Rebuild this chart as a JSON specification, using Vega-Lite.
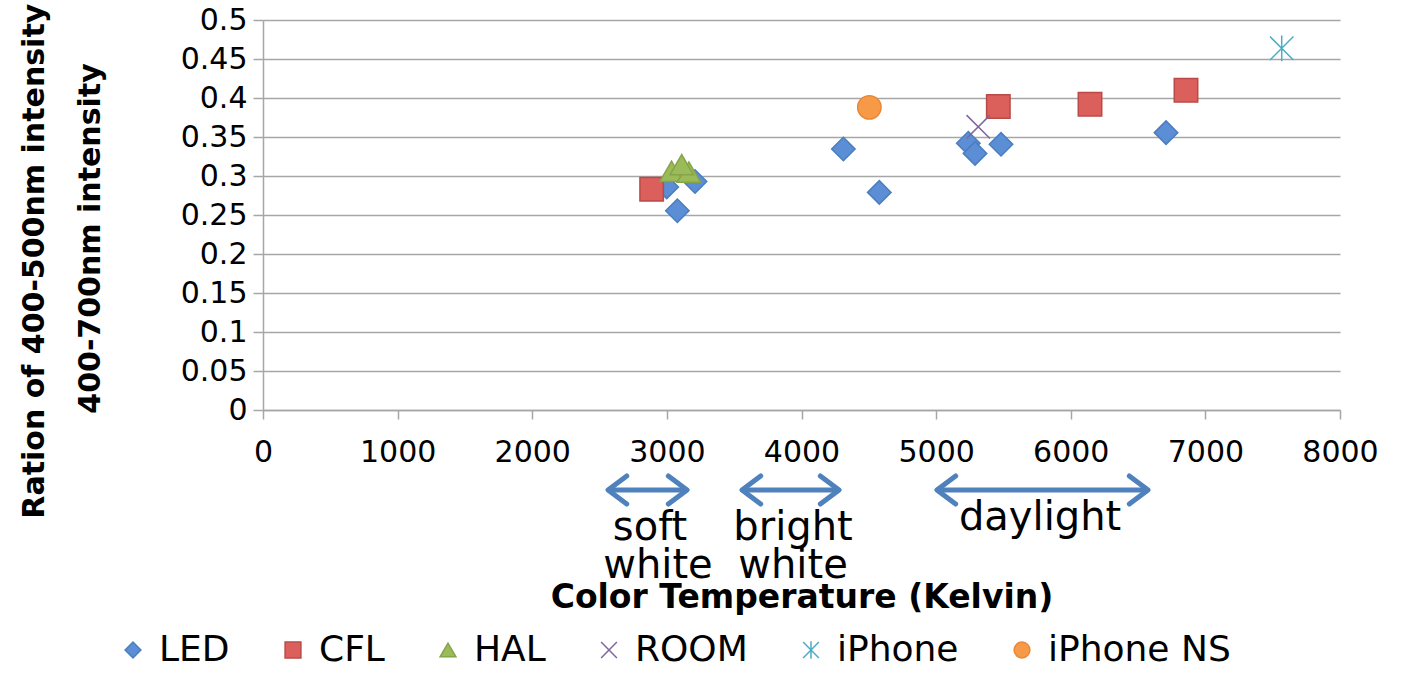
{
  "$schema": "https://vega.github.io/schema/vega-lite/v6.json",
  "width": 1077,
  "height": 390,
  "autosize": "none",
  "padding": {"left": 263, "top": 20, "right": 62, "bottom": 263},
  "background": "white",
  "config": {
    "view": {"stroke": null},
    "font": "DejaVu Sans",
    "axis": {"labelFont": "DejaVu Sans", "titleFont": "DejaVu Sans", "labelColor": "#000000", "titleColor": "#000000"}
  },
  "encoding": {
    "x": {
      "field": "temp", "type": "quantitative",
      "scale": {"domain": [0, 8000], "nice": false, "zero": true},
      "axis": {
        "title": "Color Temperature (Kelvin)",
        "titleFontSize": 33, "titleFontWeight": "bold",
        "titleBaseline": "alphabetic", "titleY": 197,
        "values": [0, 1000, 2000, 3000, 4000, 5000, 6000, 7000, 8000],
        "tickCount": 20,
        "format": "d",
        "labelFontSize": 30, "labelPadding": 18, "labelFlush": false, "labelOverlap": false,
        "grid": false,
        "domainColor": "#A6A6A6", "domainWidth": 1.5,
        "tickColor": "#A6A6A6", "tickWidth": 1.5, "tickSize": 9
      }
    },
    "y": {
      "field": "ratio", "type": "quantitative",
      "scale": {"domain": [0, 0.5], "nice": false},
      "axis": {
        "title": ["Ration of 400-500nm intensity to", "400-700nm intensity"],
        "titleFontSize": 30, "titleFontWeight": "bold",
        "titleAngle": -90, "titleAlign": "center", "titleBaseline": "alphabetic",
        "titleX": -220, "titleY": 218, "titleLineHeight": 56,
        "values": [0, 0.05, 0.1, 0.15, 0.2, 0.25, 0.3, 0.35, 0.4, 0.45, 0.5],
        "tickCount": 20,
        "labelExpr": "datum.value == 0 ? '0' : format(datum.value, '.2~f')",
        "labelFontSize": 30, "labelPadding": 6, "labelFlush": false, "labelOverlap": false,
        "grid": true, "gridColor": "#A6A6A6", "gridWidth": 1.5,
        "domainColor": "#A6A6A6", "domainWidth": 1.5,
        "tickColor": "#A6A6A6", "tickWidth": 1.5, "tickSize": 10
      }
    }
  },
  "layer": [
    {
      "data": {"values": [
        {"type": "LED", "temp": 2999, "ratio": 0.286},
        {"type": "LED", "temp": 3209, "ratio": 0.293},
        {"type": "LED", "temp": 3078, "ratio": 0.2555},
        {"type": "LED", "temp": 4311, "ratio": 0.3346},
        {"type": "LED", "temp": 4578, "ratio": 0.279},
        {"type": "LED", "temp": 5239, "ratio": 0.342},
        {"type": "LED", "temp": 5289, "ratio": 0.329},
        {"type": "LED", "temp": 5482, "ratio": 0.3406},
        {"type": "LED", "temp": 6708, "ratio": 0.3556},
        {"type": "CFL", "temp": 2887, "ratio": 0.283},
        {"type": "CFL", "temp": 5462, "ratio": 0.389},
        {"type": "CFL", "temp": 6143, "ratio": 0.392},
        {"type": "CFL", "temp": 6856, "ratio": 0.41},
        {"type": "HAL", "temp": 3035, "ratio": 0.306},
        {"type": "HAL", "temp": 3164, "ratio": 0.305},
        {"type": "HAL", "temp": 3110, "ratio": 0.3145},
        {"type": "ROOM", "temp": 5313, "ratio": 0.363},
        {"type": "iPhone", "temp": 7567, "ratio": 0.4637},
        {"type": "iPhone NS", "temp": 4504, "ratio": 0.388}
      ]},
      "mark": {"type": "point", "filled": true, "opacity": 1, "strokeWidth": 1.5, "size": 550},
      "encoding": {
        "fill": {
          "field": "type", "type": "nominal",
          "scale": {
            "domain": ["LED", "CFL", "HAL", "ROOM", "iPhone", "iPhone NS"],
            "range": ["#5B8ED4", "#DB5F5B", "#9BBB59", "transparent", "transparent", "#F79A48"]
          },
          "legend": {
            "orient": "none", "legendX": -148, "legendY": 612,
            "direction": "horizontal", "title": null,
            "labelFont": "DejaVu Sans", "labelFontSize": 36, "labelColor": "#000000", "labelLimit": 0,
            "symbolSize": 250, "symbolStrokeWidth": 1.5,
            "labelOffset": 8, "columnPadding": 45
          }
        },
        "stroke": {
          "field": "type", "type": "nominal",
          "scale": {
            "domain": ["LED", "CFL", "HAL", "ROOM", "iPhone", "iPhone NS"],
            "range": ["#4A7EC0", "#B94A47", "#86A44A", "#8064A2", "#4BACC6", "#E9883A"]
          }
        },
        "shape": {
          "field": "type", "type": "nominal",
          "scale": {
            "domain": ["LED", "CFL", "HAL", "ROOM", "iPhone", "iPhone NS"],
            "range": ["diamond", "square", "triangle-up", "M-1,-1L1,1M-1,1L1,-1", "M-1,-1L1,1M-1,1L1,-1M0,-1.1L0,1.1", "circle"]
          }
        }
      }
    },
    {
      "data": {"values": [
        {"temp": 2563, "temp2": 3150, "ratio": -0.1026},
        {"temp": 3558, "temp2": 4279, "ratio": -0.1026},
        {"temp": 5006, "temp2": 6574, "ratio": -0.1026}
      ]},
      "mark": {"type": "rule", "color": "#4F81BD", "strokeWidth": 5},
      "encoding": {
        "x2": {"field": "temp2"}
      }
    },
    {
      "data": {"values": [
        {"temp": 2563, "ratio": -0.1026},
        {"temp": 3558, "ratio": -0.1026},
        {"temp": 5006, "ratio": -0.1026}
      ]},
      "mark": {"type": "point", "shape": "M1,-0.75L0,0L1,0.75", "size": 1400, "stroke": "#4F81BD", "strokeWidth": 5, "strokeCap": "round", "strokeJoin": "round", "filled": false, "opacity": 1}
    },
    {
      "data": {"values": [
        {"temp": 3150, "ratio": -0.1026},
        {"temp": 4279, "ratio": -0.1026},
        {"temp": 6574, "ratio": -0.1026}
      ]},
      "mark": {"type": "point", "shape": "M-1,-0.75L0,0L-1,0.75", "size": 1400, "stroke": "#4F81BD", "strokeWidth": 5, "strokeCap": "round", "strokeJoin": "round", "filled": false, "opacity": 1}
    },
    {
      "data": {"values": [
        {"label": "soft", "temp": 2875, "ratio": -0.1667},
        {"label": "white", "temp": 2934, "ratio": -0.2154},
        {"label": "bright", "temp": 3937, "ratio": -0.1667},
        {"label": "white", "temp": 3937, "ratio": -0.2154},
        {"label": "daylight", "temp": 5772, "ratio": -0.1538}
      ]},
      "mark": {"type": "text", "font": "DejaVu Sans", "fontSize": 40, "align": "center", "baseline": "alphabetic", "color": "#000000"},
      "encoding": {
        "text": {"field": "label"}
      }
    }
  ]
}
